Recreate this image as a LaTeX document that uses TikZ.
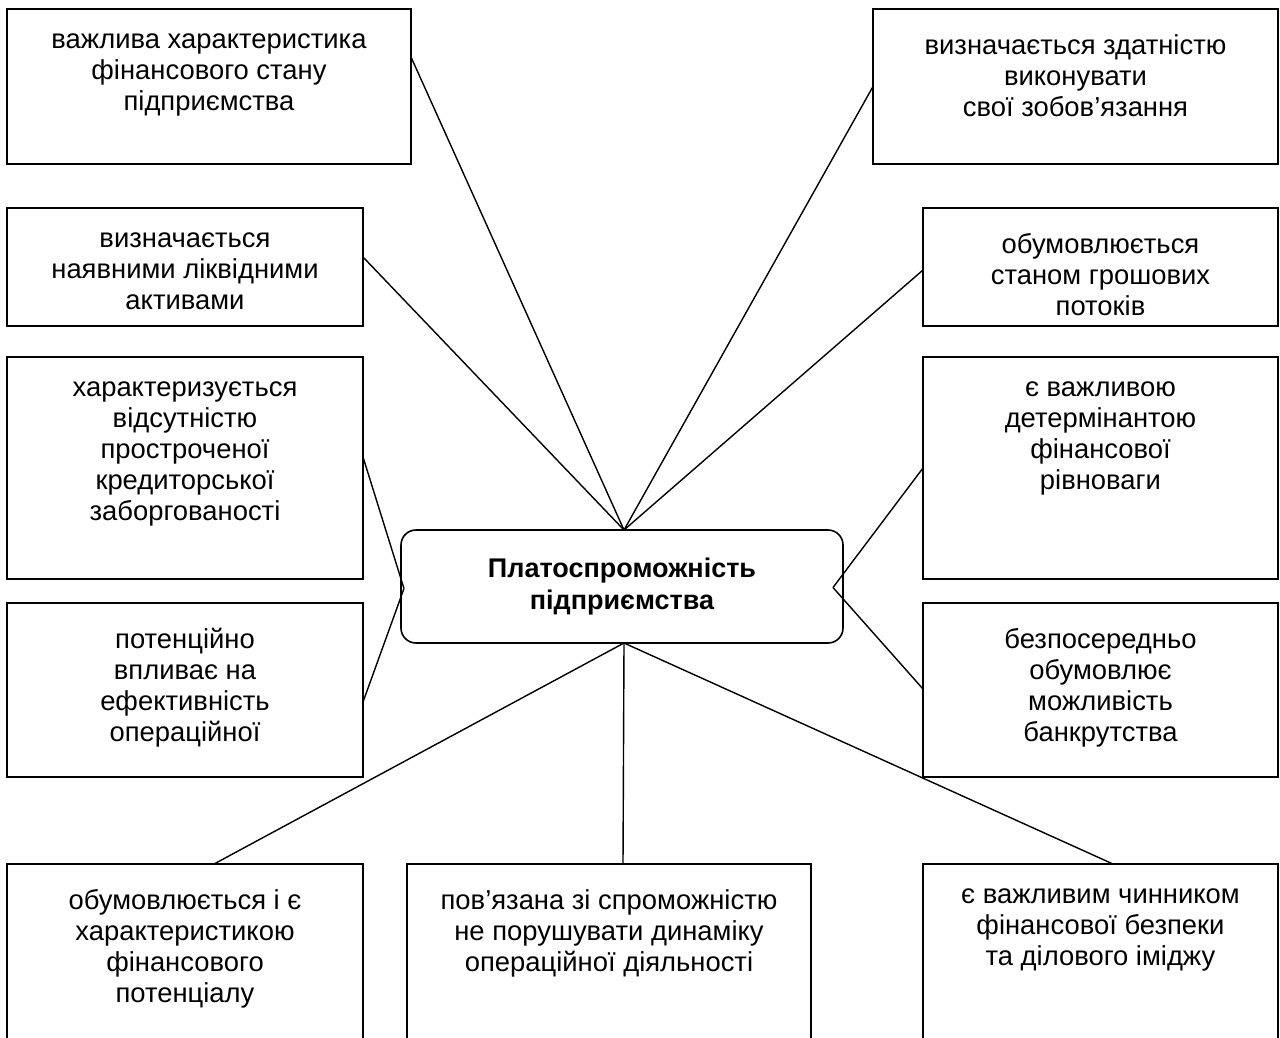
\documentclass[tikz,border=0pt]{standalone}
\usepackage{fontspec}
\setmainfont{Liberation Sans}
\usetikzlibrary{calc}
\begin{document}
\begin{tikzpicture}[x=1pt,y=-1pt,
  box/.style={draw, line width=1.6pt, rectangle, anchor=north west, inner sep=0pt, outer sep=0pt},
  txt/.style={anchor=north, inner sep=0pt, align=center, font=\fontsize{27.4}{31}\selectfont, execute at begin node=\strut},
  link/.style={line width=1.4pt},
  hub/.style={draw, line width=1.6pt, rounded corners=15pt, minimum width=442pt, minimum height=113pt, align=center, font=\fontsize{27}{32}\selectfont\bfseries, inner sep=0pt, outer sep=0pt}]
\useasboundingbox (0,0) rectangle (1280,1037);
\clip (0,0) rectangle (1280,1037);

% boxes
\node[box, minimum width=404pt, minimum height=155pt] (tl1) at (7,9) {};
\node[box, minimum width=405pt, minimum height=155pt] (tr1) at (873,9) {};
\node[box, minimum width=356pt, minimum height=118pt] (l2) at (7,208) {};
\node[box, minimum width=355pt, minimum height=118pt] (r2) at (923,208) {};
\node[box, minimum width=356pt, minimum height=222pt] (l3) at (7,357) {};
\node[box, minimum width=355pt, minimum height=222pt] (r3) at (923,357) {};
\node[box, minimum width=356pt, minimum height=174pt] (l4) at (7,603) {};
\node[box, minimum width=355pt, minimum height=174pt] (r4) at (923,603) {};
\node[box, minimum width=356pt, minimum height=260pt] (b1) at (7,864) {};
\node[box, minimum width=404pt, minimum height=260pt] (b2) at (407,864) {};
\node[box, minimum width=355pt, minimum height=260pt] (b3) at (923,864) {};

% texts
\node[txt] (tl1t) at ([yshift=-25pt]tl1.north) {важлива характеристика\\фінансового стану\\підприємства};
\node[txt] (tr1t) at ([yshift=-25pt]tr1.north) {визначається здатністю\\виконувати\\свої зобов’язання};
\node[txt] (l2t) at ([yshift=-25pt]l2.north) {визначається\\наявними ліквідними\\активами};
\node[txt] (r2t) at ([yshift=-25pt]r2.north) {обумовлюється\\станом грошових\\потоків};
\node[txt] (l3t) at ([yshift=-25pt]l3.north) {характеризується\\відсутністю\\простроченої\\кредиторської\\заборгованості};
\node[txt] (r3t) at ([yshift=-25pt]r3.north) {є важливою\\детермінантою\\фінансової\\рівноваги};
\node[txt] (l4t) at ([yshift=-25pt]l4.north) {потенційно\\впливає на\\ефективність\\операційної};
\node[txt] (r4t) at ([yshift=-25pt]r4.north) {безпосередньо\\обумовлює\\можливість\\банкрутства};
\node[txt] (b1t) at ([yshift=-25pt]b1.north) {обумовлюється і є\\характеристикою\\фінансового\\потенціалу};
\node[txt] (b2t) at ([yshift=-25pt]b2.north) {пов’язана зі спроможністю\\не порушувати динаміку\\операційної діяльності};
\node[txt] (b3t) at ([yshift=-25pt]b3.north) {є важливим чинником\\фінансової безпеки\\та ділового іміджу};

% central node
\node[hub] (c) at (622,586.5) {Платоспроможність\\підприємства};

% connectors
\draw[link] ([yshift=-48pt]tl1.north east) -- ([xshift=2pt]c.north);
\draw[link] (tr1.west) -- ([xshift=2pt]c.north);
\draw[link] ([yshift=-49pt]l2.north east) -- ([xshift=2pt]c.north);
\draw[link] ([yshift=-62pt]r2.north west) -- ([xshift=2pt]c.north);
\draw[link] ([yshift=-100pt]l3.north east) -- ([xshift=3pt,yshift=-2pt]c.west);
\draw[link] ([yshift=-99pt]l4.north east) -- ([xshift=3pt,yshift=-2pt]c.west);
\draw[link] ([yshift=-111pt]r3.north west) -- ([xshift=-10pt,yshift=-1pt]c.east);
\draw[link] ([yshift=-86pt]r4.north west) -- ([xshift=-10pt,yshift=-1pt]c.east);
\draw[link] ([xshift=2pt]c.south) -- ([xshift=29pt]b1.north);
\draw[link] ([xshift=2pt]c.south) -- ([xshift=14pt]b2.north);
\draw[link] ([xshift=2pt]c.south) -- ([xshift=12.5pt]b3.north);
\end{tikzpicture}
\end{document}
